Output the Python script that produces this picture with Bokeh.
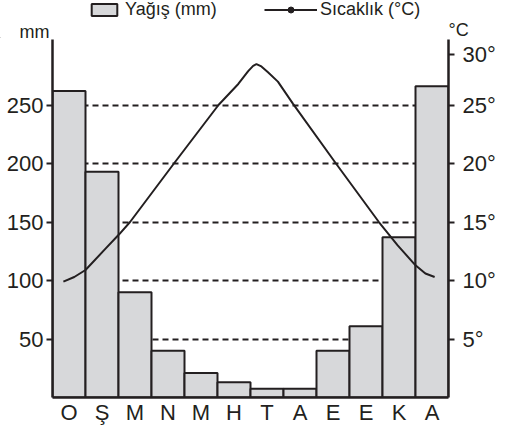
from bokeh.plotting import figure
from bokeh.models import (FixedTicker, Range1d, LinearAxis, Legend, LegendItem, Label)
from bokeh.embed import file_html
from bokeh.resources import INLINE

# ---- data ----
months = ["O", "Ş", "M", "N", "M", "H", "T", "A", "E", "E", "K", "A"]
rain_mm = [262, 193, 90, 40, 21, 13, 7.5, 7.5, 40, 61, 137, 266]
# temperature curve (position in month units, °C)
temp_pos = [0.33, 0.66, 1.0, 1.6, 2.02, 2.35, 3.68, 5.03, 5.63, 5.93, 6.08, 6.18,
            6.33, 6.53, 6.83, 7.29, 8.59, 9.89, 10.46, 11.0, 11.3, 11.58]
temp_c = [9.9, 10.3, 10.9, 12.7, 13.95, 15.0, 20.0, 25.0, 26.8, 27.9, 28.35, 28.5,
          28.3, 27.8, 27.0, 25.1, 20.0, 15.0, 13.0, 11.3, 10.6, 10.3]
mm_ticks = [50, 100, 150, 200, 250]
mm_labels = ["50", "100", "150", "200", "250"]
c_ticks = [5, 10, 15, 20, 25, 29.3]
c_labels = ["5°", "10°", "15°", "20°", "25°", "30°"]

Y_END = 306
DARK = "#231f20"
BAR = "#d7d8da"
FONT = "Liberation Sans"
W, H, HEAD = 498, 427, 38
LEFT, RIGHT = 52, 48

x_centers = [i + 0.5 for i in range(len(months))]

# ---------- header: legend + unit captions ----------
hd = figure(width=W, height=HEAD, output_backend="svg", toolbar_location=None,
            x_range=Range1d(0, W), y_range=Range1d(0, HEAD),
            x_axis_location=None, y_axis_location=None,
            min_border=0)
hd.outline_line_color = None
hd.grid.grid_line_color = None
hd.background_fill_color = "white"

# legend keys (kept off the visible area; only their legend icons are shown)
KEY_X, KEY_Y = [-100], [-100]
k_bar = hd.vbar(x=KEY_X, top=KEY_Y, width=1, fill_color=BAR, line_color=DARK, line_width=2)
k_line = hd.line(x=KEY_X, y=KEY_Y, line_color=DARK, line_width=2)
k_dot = hd.scatter(x=KEY_X, y=KEY_Y, marker="circle", size=6, fill_color=DARK, line_color=DARK)


def make_legend(items, gw, loc, standoff):
    return Legend(items=items, location=loc, orientation="horizontal",
                  glyph_width=gw, glyph_height=15, label_standoff=standoff,
                  label_text_font=FONT, label_text_font_size="18px",
                  label_text_color=DARK, label_height=16,
                  background_fill_alpha=0, border_line_color=None,
                  padding=0, margin=0, spacing=0)


hd.add_layout(make_legend([LegendItem(label="Yağış (mm)", renderers=[k_bar])], 32,
                          (88, 18), 5), "center")
hd.add_layout(make_legend([LegendItem(label="Sıcaklık (°C)", renderers=[k_line, k_dot])], 53,
                          (264, 18), 3), "center")
hd.add_layout(Label(x=LEFT - 3, y=7, text="mm", text_align="right",
                    text_baseline="alphabetic", text_font=FONT, text_font_size="18px",
                    text_color=DARK))
hd.add_layout(Label(x=W - RIGHT - 2, y=9, text="°C", text_align="left",
                    text_baseline="alphabetic", text_font=FONT, text_font_size="18px",
                    text_color=DARK))

# ---------- main chart ----------
p = figure(width=W, height=H - HEAD, output_backend="svg", toolbar_location=None,
           x_range=Range1d(0, 12), y_range=Range1d(0, Y_END),
           min_border_left=LEFT, min_border_right=RIGHT, min_border_top=1,
           min_border_bottom=0)
p.outline_line_color = None
p.background_fill_color = "white"
p.extra_y_ranges = {"temp": Range1d(0, Y_END / 10)}

p.vbar(x=x_centers, top=rain_mm, width=1.0, bottom=0,
       fill_color=BAR, line_color=DARK, line_width=2)
p.line(x=temp_pos, y=temp_c, y_range_name="temp", line_color=DARK, line_width=2)

# grid: dashed horizontal lines
p.xgrid.grid_line_color = None
p.ygrid.ticker = FixedTicker(ticks=mm_ticks)
p.ygrid.grid_line_color = DARK
p.ygrid.grid_line_dash = "6 4"
p.ygrid.grid_line_width = 2

# left axis
ya = p.yaxis[0]
ya.ticker = FixedTicker(ticks=mm_ticks)
ya.major_label_overrides = {t: l for t, l in zip(mm_ticks, mm_labels)}
ya.axis_line_width = 2.5
ya.axis_line_color = DARK
ya.major_tick_line_color = DARK
ya.major_tick_line_width = 2
ya.major_tick_in = 0
ya.major_tick_out = 6
ya.minor_tick_line_color = None
ya.major_label_standoff = 3
ya.major_label_text_font = FONT
ya.major_label_text_font_size = "22px"
ya.major_label_text_color = DARK

# bottom axis
xa = p.xaxis[0]
xa.ticker = FixedTicker(ticks=x_centers)
xa.major_label_overrides = {c: m for c, m in zip(x_centers, months)}
xa.axis_label = None
xa.axis_label_standoff = 0
xa.axis_line_width = 2.5
xa.axis_line_color = DARK
xa.major_tick_line_color = None
xa.major_tick_in = 0
xa.major_tick_out = 0
xa.minor_tick_line_color = None
xa.minor_tick_out = 0
xa.major_label_standoff = 2
xa.major_label_text_font = FONT
xa.major_label_text_font_size = "22px"
xa.major_label_text_color = DARK

# right axis
ra = LinearAxis(y_range_name="temp", ticker=FixedTicker(ticks=c_ticks))
ra.major_label_overrides = {t: l for t, l in zip(c_ticks, c_labels)}
ra.axis_line_width = 2.5
ra.axis_line_color = DARK
ra.major_tick_line_color = DARK
ra.major_tick_line_width = 2
ra.major_tick_in = 0
ra.major_tick_out = 6
ra.minor_tick_line_color = None
ra.major_label_standoff = 8
ra.major_label_text_font = FONT
ra.major_label_text_font_size = "22px"
ra.major_label_text_color = DARK
p.add_layout(ra, "right")

open("out.html", "w").write(file_html([hd, p], INLINE))
